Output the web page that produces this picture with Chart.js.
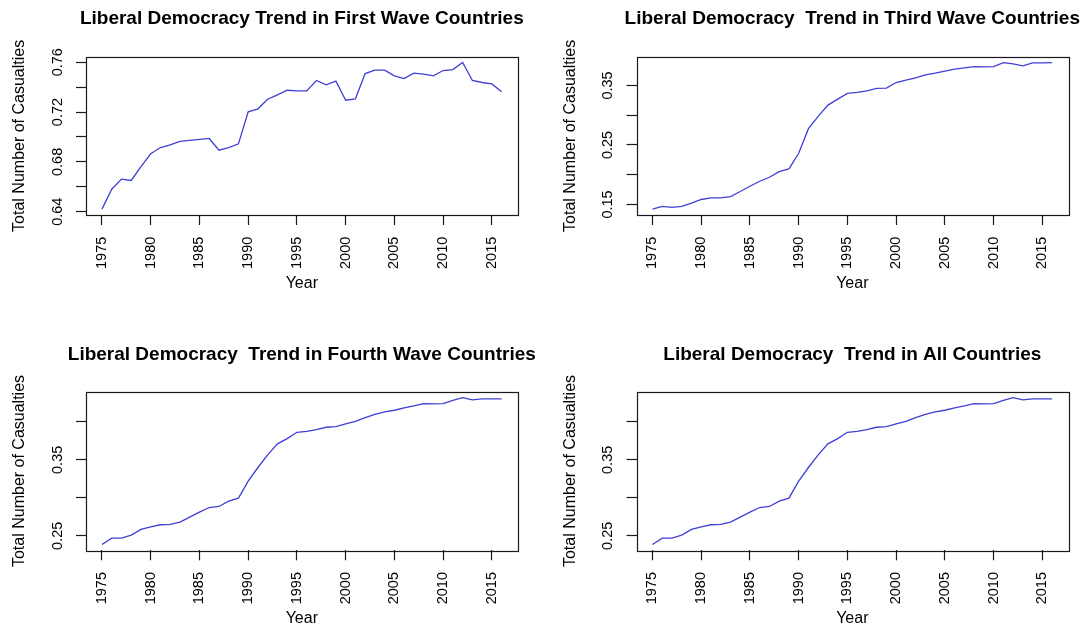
<!DOCTYPE html>
<html>
<head>
<meta charset="utf-8">
<script src="https://cdn.jsdelivr.net/npm/chart.js@4"></script>
<style>
html, body { margin: 0; padding: 0; background: #ffffff; }
#wrap { position: relative; width: 1084px; height: 628px; background: #ffffff; }
.panel { position: absolute; width: 542px; height: 314px; }
.panel canvas { display: block; }
</style>
</head>
<body>
<div id="wrap">
  <div class="panel" style="left:0px;top:0px"><canvas id="c1" width="542" height="314"></canvas></div>
  <div class="panel" style="left:542px;top:0px"><canvas id="c2" width="542" height="314"></canvas></div>
  <div class="panel" style="left:0px;top:314px"><canvas id="c3" width="542" height="314"></canvas></div>
  <div class="panel" style="left:542px;top:314px"><canvas id="c4" width="542" height="314"></canvas></div>
</div>
<script>
// ---------------- data ----------------
const years = [1975,1976,1977,1978,1979,1980,1981,1982,1983,1984,1985,1986,1987,1988,1989,
               1990,1991,1992,1993,1994,1995,1996,1997,1998,1999,2000,2001,2002,2003,2004,
               2005,2006,2007,2008,2009,2010,2011,2012,2013,2014,2015,2016];

const firstWave = [0.6421,0.6581,0.6662,0.6651,0.6763,0.6865,0.6915,0.6937,0.6964,0.6972,
                   0.6980,0.6988,0.6894,0.6915,0.6945,0.7202,0.7226,0.7303,0.7338,0.7375,
                   0.7370,0.7370,0.7453,0.7418,0.7448,0.7295,0.7306,0.7509,0.7536,0.7536,
                   0.7490,0.7469,0.7512,0.7504,0.7490,0.7533,0.7541,0.7597,0.7453,0.7437,
                   0.7426,0.7362];

const thirdWave = [0.1422,0.1467,0.1450,0.1467,0.1522,0.1584,0.1612,0.1612,0.1634,0.1718,
                   0.1807,0.1891,0.1958,0.2053,0.2098,0.2360,0.2774,0.2980,0.3170,0.3271,
                   0.3366,0.3383,0.3411,0.3450,0.3455,0.3550,0.3589,0.3628,0.3679,0.3707,
                   0.3740,0.3774,0.3796,0.3818,0.3813,0.3818,0.3885,0.3863,0.3830,0.3880,
                   0.3880,0.3885];

const fourthWave = [0.2386,0.2469,0.2469,0.2508,0.2583,0.2618,0.2645,0.2649,0.2679,0.2745,
                    0.2811,0.2872,0.2886,0.2955,0.2995,0.3219,0.3399,0.3566,0.3711,0.3780,
                    0.3863,0.3876,0.3899,0.3929,0.3938,0.3974,0.4008,0.4057,0.4100,0.4132,
                    0.4153,0.4184,0.4211,0.4241,0.4237,0.4241,0.4284,0.4320,0.4289,0.4303,
                    0.4303,0.4303];

const allCountries = [0.2386,0.2469,0.2469,0.2508,0.2583,0.2618,0.2645,0.2649,0.2679,0.2745,
                      0.2811,0.2872,0.2886,0.2955,0.2995,0.3219,0.3399,0.3566,0.3711,0.3780,
                      0.3863,0.3876,0.3899,0.3929,0.3938,0.3974,0.4008,0.4057,0.4100,0.4132,
                      0.4153,0.4184,0.4211,0.4241,0.4237,0.4241,0.4284,0.4320,0.4289,0.4303,
                      0.4303,0.4303];

const xTicks = [1975,1980,1985,1990,1995,2000,2005,2010,2015];

const yTicksFirst  = [0.64,0.66,0.68,0.70,0.72,0.74,0.76];
const yLabelsFirst = ['0.64','','0.68','','0.72','','0.76'];
const yTicksThird  = [0.15,0.20,0.25,0.30,0.35];
const yLabelsThird = ['0.15','','0.25','','0.35'];
const yTicksFourth  = [0.25,0.30,0.35,0.40];
const yLabelsFourth = ['0.25','','0.35',''];
const yTicksAll  = [0.25,0.30,0.35,0.40];
const yLabelsAll = ['0.25','','0.35',''];

const titles = [
  'Liberal Democracy Trend in First Wave Countries',
  'Liberal Democracy  Trend in Third Wave Countries',
  'Liberal Democracy  Trend in Fourth Wave Countries',
  'Liberal Democracy  Trend in All Countries'
];
const xTitle = 'Year';
const yTitle = 'Total Number of Casualties';

// ---------------- styling / layout ----------------
const FONT = '"Liberation Sans", Arial, Helvetica, sans-serif';
Chart.defaults.font.family = FONT;
Chart.defaults.color = '#000000';

const LINE_COLOR = '#3f3fd8';
const AXIS_COLOR = '#1a1a1a';

const topRow    = { areaTop: 56.7, titleOffset: 38.4, xHeight: 99,   yearBottom: 21.1 };
const bottomRow = { areaTop: 77.7, titleOffset: 36.7, xHeight: 77.7, yearBottom: 0.1 };
const leftCol   = { padL: 0,   padR: 24.4 };
const rightCol  = { padL: 8.5, padR: 15.9 };

// plot box around the chart area (R's box())
const boxPlugin = {
  id: 'plotBox',
  afterDraw(chart) {
    const a = chart.chartArea;
    const ctx = chart.ctx;
    ctx.save();
    ctx.strokeStyle = AXIS_COLOR;
    ctx.lineWidth = 1.2;
    ctx.strokeRect(Math.round(a.left) + 0.5, Math.round(a.top) + 0.5,
                   Math.round(a.right - a.left), Math.round(a.bottom - a.top));
    ctx.restore();
  }
};

// main title centred over the plot region, not squeezed to its width
const mainTitlePlugin = {
  id: 'mainTitle',
  afterDraw(chart, args, opts) {
    const a = chart.chartArea;
    const ctx = chart.ctx;
    ctx.save();
    ctx.fillStyle = '#000000';
    ctx.font = 'bold 19px ' + FONT;
    ctx.textAlign = 'center';
    ctx.textBaseline = 'middle';
    ctx.fillText(opts.text, (a.left + a.right) / 2, a.top - opts.offset);
    ctx.restore();
  }
};

function rRange(vals) {
  const lo = Math.min(...vals), hi = Math.max(...vals);
  const pad = (hi - lo) * 0.04;
  return [lo - pad, hi + pad];
}

function makeChart(id, title, vals, yTicks, yLabels, row, col) {
  const [xmin, xmax] = rRange(years);
  const [ymin, ymax] = rRange(vals);
  return new Chart(document.getElementById(id), {
    type: 'line',
    data: {
      datasets: [{
        data: years.map((yr, i) => ({ x: yr, y: vals[i] })),
        borderColor: LINE_COLOR,
        borderWidth: 1.3,
        pointRadius: 0,
        tension: 0,
        fill: false
      }]
    },
    options: {
      responsive: false,
      animation: false,
      events: [],
      layout: { padding: { left: col.padL, right: col.padR, top: row.areaTop, bottom: 0 } },
      plugins: {
        legend: { display: false },
        tooltip: { enabled: false },
        title: { display: false },
        mainTitle: { text: title, offset: row.titleOffset }
      },
      scales: {
        x: {
          type: 'linear',
          min: xmin,
          max: xmax,
          afterBuildTicks: (s) => { s.ticks = xTicks.map(v => ({ value: v })); },
          afterFit: (s) => { s.height = row.xHeight; },
          ticks: {
            autoSkip: false,
            minRotation: 90,
            maxRotation: 90,
            padding: 11.7,
            color: '#000000',
            font: { size: 14.5 },
            callback: (v) => String(v)
          },
          grid: {
            display: true,
            drawOnChartArea: false,
            drawTicks: true,
            tickLength: 10,
            tickColor: AXIS_COLOR,
            tickWidth: 1.2
          },
          border: { display: false },
          title: {
            display: true,
            text: xTitle,
            color: '#000000',
            font: { size: 16 },
            padding: { top: 0, bottom: row.yearBottom }
          }
        },
        y: {
          type: 'linear',
          min: ymin,
          max: ymax,
          afterBuildTicks: (s) => { s.ticks = yTicks.map(v => ({ value: v })); },
          afterFit: (s) => { s.width = 86; },
          ticks: {
            autoSkip: false,
            minRotation: 90,
            maxRotation: 90,
            crossAlign: 'center',
            padding: 3.9,
            color: '#000000',
            font: { size: 14.5 },
            callback: (v, i) => yLabels[i]
          },
          grid: {
            display: true,
            drawOnChartArea: false,
            drawTicks: true,
            tickLength: 10,
            tickColor: AXIS_COLOR,
            tickWidth: 1.2
          },
          border: { display: false },
          title: {
            display: true,
            text: yTitle,
            color: '#000000',
            font: { size: 16 },
            padding: { top: 10, bottom: 0 }
          }
        }
      }
    },
    plugins: [boxPlugin, mainTitlePlugin]
  });
}

makeChart('c1', titles[0], firstWave,    yTicksFirst,  yLabelsFirst,  topRow,    leftCol);
makeChart('c2', titles[1], thirdWave,    yTicksThird,  yLabelsThird,  topRow,    rightCol);
makeChart('c3', titles[2], fourthWave,   yTicksFourth, yLabelsFourth, bottomRow, leftCol);
makeChart('c4', titles[3], allCountries, yTicksAll,    yLabelsAll,    bottomRow, rightCol);
</script>
</body>
</html>
